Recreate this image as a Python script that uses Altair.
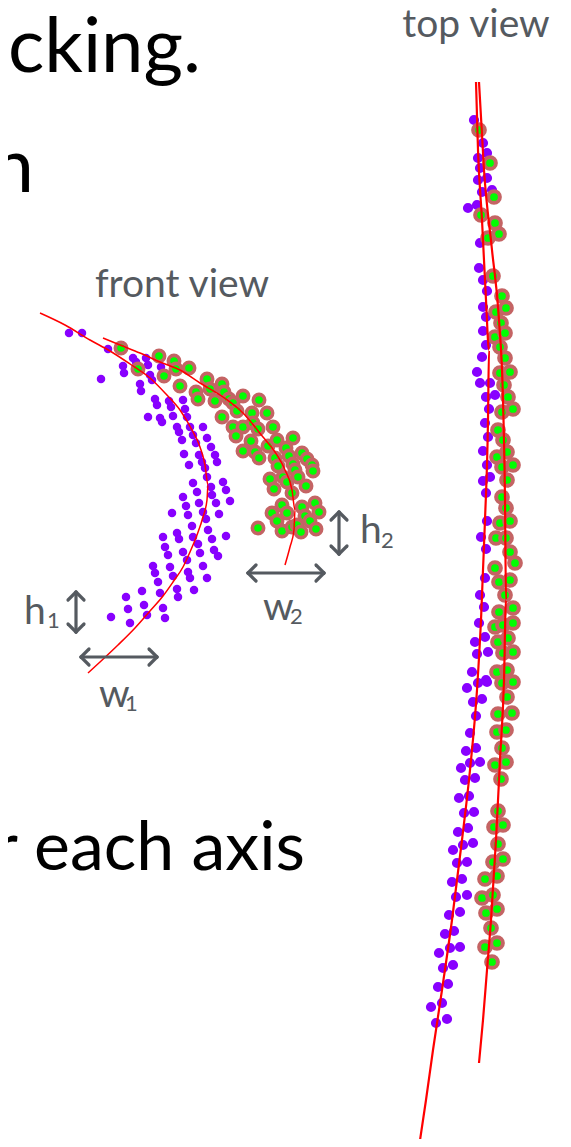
import altair as alt
import pandas as pd

W, H, M = 571, 1147, 8

# ---------------- front view ----------------
front_purple_x = [69, 82, 108, 101, 123, 124, 133, 136, 146, 148, 161, 150, 152, 140, 141, 155, 157, 169, 171, 183,
                  185, 148, 160, 162, 173, 187, 177, 179, 190, 193, 182, 203, 207, 196, 211, 184, 199, 215, 202, 189,
                  217, 205, 207, 193, 211, 223, 197, 226, 212, 183, 216, 230, 199, 186, 203, 188, 172, 219, 206, 192,
                  208, 177, 179, 163, 193, 212, 226, 198, 165, 183, 200, 214, 218, 168, 187, 153, 170, 203, 155, 173,
                  188, 190, 207, 158, 177, 194, 142, 160, 178, 126, 128, 144, 147, 163, 165, 111, 130]
front_purple_y = [333, 333, 349, 379, 366, 373, 358, 362, 358, 365, 367, 375, 380, 384, 391, 399, 405, 401, 407, 400,
                  409, 417, 418, 422, 416, 417, 427, 432, 427, 435, 440, 427, 438, 443, 447, 454, 455, 455, 462, 465,
                  462, 468, 477, 483, 487, 482, 492, 490, 495, 497, 503, 501, 503, 506, 512, 515, 513, 514, 519, 526,
                  530, 533, 539, 537, 537, 539, 536, 544, 547, 552, 553, 550, 556, 555, 560, 566, 567, 566, 573, 576,
                  572, 578, 578, 582, 589, 590, 591, 593, 597, 597, 609, 605, 615, 608, 618, 617, 623]

front_green_x = [121, 138, 159, 164, 174, 176, 189, 180, 196, 198, 207, 210, 215, 222, 224, 229, 233, 243, 259, 237,
                 252, 267, 222, 233, 243, 253, 258, 273, 236, 251, 243, 255, 259, 268, 277, 293, 286, 289, 275, 278,
                 293, 302, 307, 312, 313, 295, 298, 283, 287, 270, 274, 292, 306, 315, 319, 282, 287, 272, 277, 302,
                 305, 310, 258, 282, 292, 297, 301, 316]
front_green_y = [348, 369, 356, 376, 361, 369, 368, 386, 392, 399, 379, 389, 401, 384, 392, 399, 403, 396, 400, 411,
                 413, 413, 417, 427, 427, 423, 429, 427, 436, 441, 451, 452, 458, 446, 440, 438, 448, 456, 458, 466,
                 464, 453, 459, 465, 471, 470, 477, 477, 482, 479, 489, 493, 486, 503, 512, 505, 513, 513, 521, 507,
                 516, 521, 528, 531, 527, 525, 532, 529]

front_curve1_x = [40, 65, 90, 110, 130, 150, 165, 180, 192, 200, 205, 208, 207, 203, 197, 190, 183, 173, 163, 150,
                  135, 118, 100, 88]
front_curve1_y = [313, 325, 340, 351, 364, 378, 393, 410, 430, 447, 465, 485, 500, 517, 535, 552, 567, 582, 596, 611,
                  628, 645, 662, 673]
front_curve2_x = [103, 120, 140, 160, 180, 200, 223, 243, 263, 275, 285, 292, 295, 294, 290, 285]
front_curve2_y = [338, 345, 353, 362, 370, 383, 397, 413, 437, 452, 470, 490, 510, 530, 547, 565]

# ---------------- top view ----------------
top_purple_x = [474, 483, 487, 478, 480, 478, 487, 482, 492, 468, 477, 480, 479, 483, 487, 483, 486, 483, 486, 482,
                477, 480, 490, 486, 495, 489, 485, 488, 483, 487, 483, 490, 486, 487, 481, 486, 485, 480, 484, 479,
                475, 485, 477, 488, 472, 486, 467, 478, 487, 473, 482, 476, 470, 466, 476, 461, 470, 480, 465, 475,
                459, 469, 464, 474, 458, 468, 453, 463, 473, 457, 467, 452, 462, 456, 467, 449, 460, 445, 454, 439,
                450, 460, 443, 453, 438, 448, 431, 442, 436, 447]
top_purple_y = [120, 143, 153, 158, 168, 180, 178, 192, 190, 208, 205, 243, 268, 280, 291, 307, 317, 331, 345, 357,
                372, 383, 383, 397, 395, 409, 423, 437, 451, 465, 481, 477, 493, 521, 537, 549, 578, 595, 607, 623,
                642, 637, 654, 652, 672, 680, 688, 683, 682, 702, 699, 716, 733, 751, 748, 768, 763, 762, 780, 778,
                798, 796, 813, 812, 832, 828, 850, 845, 843, 863, 862, 882, 879, 897, 895, 915, 912, 934, 931, 953,
                948, 947, 968, 965, 987, 984, 1007, 1003, 1023, 1019]

top_green_x = [479, 490, 494, 481, 495, 499, 488, 493, 502, 496, 506, 501, 495, 505, 500, 505, 500, 510, 504, 508,
               502, 513, 498, 503, 497, 507, 502, 513, 507, 502, 506, 500, 510, 496, 506, 510, 515, 495, 499, 510,
               505, 499, 513, 495, 503, 513, 498, 508, 503, 513, 497, 507, 502, 513, 507, 498, 512, 497, 506, 502,
               495, 506, 501, 498, 494, 503, 498, 493, 503, 485, 497, 482, 493, 486, 497, 491, 485, 497, 492]
top_green_y = [130, 163, 197, 215, 223, 234, 238, 276, 296, 312, 308, 323, 337, 333, 347, 358, 373, 372, 385, 397,
               412, 409, 430, 440, 457, 452, 467, 465, 480, 497, 508, 523, 521, 538, 538, 552, 563, 568, 582, 580,
               595, 612, 608, 627, 625, 623, 642, 638, 653, 652, 672, 670, 683, 682, 697, 714, 713, 732, 730, 748,
               765, 762, 779, 811, 827, 825, 844, 862, 859, 879, 876, 898, 895, 913, 909, 928, 947, 943, 962]

top_line1_x = [476, 478, 482, 486, 489, 488, 485, 481, 477, 470, 462, 452, 442, 433, 426, 419]
top_line1_y = [82, 150, 220, 300, 350, 420, 520, 620, 690, 770, 840, 920, 990, 1050, 1100, 1147]
top_line2_x = [479, 484, 492, 499, 503, 505, 506, 504, 500, 496, 491, 487, 483, 479]
top_line2_y = [82, 170, 250, 320, 400, 500, 600, 680, 760, 840, 920, 970, 1020, 1063]

# ---------------- annotations ----------------
arrow_kind = ["v", "h", "v", "h"]
arrow_cx = [76, 119, 339, 286]
arrow_cy = [612, 657, 533, 573]
arrow_half = [20, 38, 21, 38]

label_text = ["h", "1", "w", "1", "h", "2", "w", "2"]
label_x = [24, 47, 99, 125, 360, 381, 263, 290]
label_y = [624, 628, 707, 711, 543, 548, 620, 624]
label_size = [39, 22, 39, 22, 39, 22, 39, 22]

big_text = ["cking.", "n", "r each axis"]
big_x = [201, 34, 305]
big_y = [72, 192, 870]
big_size = [76, 76, 68]

view_text = ["front view", "top view"]
view_x = [182, 476]
view_y = [297, 37]
view_size = [39, 39]

PURPLE = "#8800ff"
GREEN = "#00ff00"
RING = "#c46464"
RED = "#ff0000"
GRAY = "#555a60"
FONT = "Lato"

# plot area covers page pixels M..W-M, M..H-M
xs = alt.Scale(domain=[M, W - M], nice=False, zero=False)
ys = alt.Scale(domain=[M, H - M], nice=False, zero=False, reverse=True)


def enc_xy(xf="x", yf="y"):
    return dict(x=alt.X(f"{xf}:Q", scale=xs, axis=None), y=alt.Y(f"{yf}:Q", scale=ys, axis=None))


def pts(xl, yl):
    return pd.DataFrame({"x": xl, "y": yl})


def line_df(xl, yl):
    return pd.DataFrame({"x": xl, "y": yl, "i": list(range(len(xl)))})


layers = []

# front view points
layers.append(alt.Chart(pts(front_purple_x, front_purple_y)).mark_circle(
    size=72, color=PURPLE, opacity=1, clip=True).encode(**enc_xy()))
layers.append(alt.Chart(pts(front_green_x, front_green_y)).mark_circle(
    size=128, fill=GREEN, stroke=RING, strokeWidth=3.6, opacity=1, fillOpacity=1, clip=True).encode(**enc_xy()))

# top view points
layers.append(alt.Chart(pts(top_purple_x, top_purple_y)).mark_circle(
    size=104, color=PURPLE, opacity=1, clip=True).encode(**enc_xy()))
layers.append(alt.Chart(pts(top_green_x, top_green_y)).mark_circle(
    size=138, fill=GREEN, stroke=RING, strokeWidth=4, opacity=1, fillOpacity=1, clip=True).encode(**enc_xy()))

# red curves
for cx, cy, w in [(front_curve1_x, front_curve1_y, 1.5), (front_curve2_x, front_curve2_y, 1.5),
                  (top_line1_x, top_line1_y, 2.2), (top_line2_x, top_line2_y, 2.2)]:
    layers.append(alt.Chart(line_df(cx, cy)).mark_line(
        color=RED, strokeWidth=w, interpolate="monotone", clip=True).encode(**enc_xy(), order="i:Q"))

# arrows
segs = []
for k, cx, cy, hl in zip(arrow_kind, arrow_cx, arrow_cy, arrow_half):
    a = 8
    if k == "v":
        segs.append((cx, cy - hl, cx, cy + hl))
        segs += [(cx, cy - hl, cx - a, cy - hl + a), (cx, cy - hl, cx + a, cy - hl + a),
                 (cx, cy + hl, cx - a, cy + hl - a), (cx, cy + hl, cx + a, cy + hl - a)]
    else:
        segs.append((cx - hl, cy, cx + hl, cy))
        segs += [(cx - hl, cy, cx - hl + a, cy - a), (cx - hl, cy, cx - hl + a, cy + a),
                 (cx + hl, cy, cx + hl - a, cy - a), (cx + hl, cy, cx + hl - a, cy + a)]
seg_df = pd.DataFrame(segs, columns=["x", "y", "x2", "y2"])
layers.append(alt.Chart(seg_df).mark_rule(color=GRAY, strokeWidth=3.2, strokeCap="round").encode(
    **enc_xy(), x2="x2:Q", y2="y2:Q"))

# labels
for t, x, y, s in zip(label_text, label_x, label_y, label_size):
    layers.append(alt.Chart(pd.DataFrame({"x": [x], "y": [y], "t": [t]})).mark_text(
        align="left", baseline="alphabetic", font=FONT, fontSize=s, color=GRAY).encode(**enc_xy(), text="t:N"))

for t, x, y, s in zip(big_text, big_x, big_y, big_size):
    layers.append(alt.Chart(pd.DataFrame({"x": [x], "y": [y], "t": [t]})).mark_text(
        align="right", baseline="alphabetic", font=FONT, fontSize=s, color="#000000").encode(**enc_xy(), text="t:N"))

for t, x, y, s in zip(view_text, view_x, view_y, view_size):
    layers.append(alt.Chart(pd.DataFrame({"x": [x], "y": [y], "t": [t]})).mark_text(
        align="center", baseline="alphabetic", font=FONT, fontSize=s, color=GRAY).encode(**enc_xy(), text="t:N"))

chart = alt.layer(*layers).properties(
    width=W - 2 * M, height=H - 2 * M, padding=0, autosize=alt.AutoSizeParams(type="none"), background="white"
).configure_view(stroke=None)

chart.save("out.html", embed_options={"renderer": "svg", "actions": False})
